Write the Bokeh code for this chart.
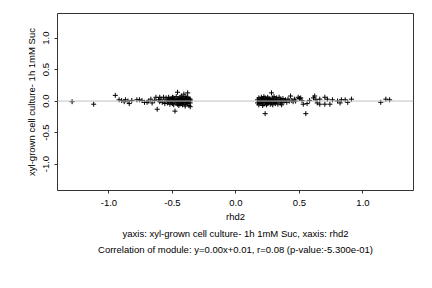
from bokeh.plotting import figure
from bokeh.models import Span, Title, FixedTicker, NumeralTickFormatter
from bokeh.embed import file_html
from bokeh.resources import INLINE

# rhd2 (x) vs xyl-grown cell culture- 1h 1mM Suc (y)
left_x = [-1.29, -1.12, -0.95, -0.92, -0.90, -0.88, -0.87, -0.85, -0.84, -0.82, -0.78, -0.76,
          -0.74, -0.72, -0.70, -0.69, -0.67, -0.66, -0.64, -0.63, -0.62, -0.61, -0.60, -0.60,
          -0.59, -0.58, -0.57, -0.56, -0.56, -0.55, -0.54, -0.54, -0.53, -0.53, -0.52, -0.52,
          -0.51, -0.51, -0.51, -0.50, -0.50, -0.50, -0.49, -0.49, -0.49, -0.48, -0.48, -0.48,
          -0.47, -0.47, -0.47, -0.46, -0.46, -0.46, -0.46, -0.45, -0.45, -0.45, -0.44, -0.44,
          -0.44, -0.44, -0.43, -0.43, -0.43, -0.42, -0.42, -0.42, -0.42, -0.41, -0.41, -0.41,
          -0.41, -0.40, -0.40, -0.40, -0.40, -0.39, -0.39, -0.39, -0.38, -0.38, -0.38, -0.38,
          -0.37, -0.37, -0.37, -0.37, -0.36, -0.36, -0.36, -0.36]
left_y = [-0.01, -0.05, 0.09, 0.02, 0.01, -0.01, 0.02, 0.00, -0.04, 0.01, 0.02, 0.02,
          0.01, -0.02, -0.02, 0.00, 0.03, -0.03, 0.01, 0.06, -0.13, 0.02, 0.06, -0.01,
          0.03, -0.02, 0.06, 0.00, -0.04, 0.05, 0.02, -0.03, 0.06, -0.01, 0.03, -0.05,
          0.04, -0.02, 0.01, 0.06, -0.04, 0.00, 0.02, -0.06, 0.05, -0.01, 0.03, -0.16,
          0.07, -0.03, 0.01, 0.14, -0.05, 0.02, -0.01, 0.04, -0.07, 0.00, 0.06, -0.02,
          0.03, -0.05, 0.01, 0.08, -0.04, 0.05, -0.01, 0.02, -0.06, 0.11, 0.00, -0.03,
          0.04, 0.07, -0.05, 0.01, -0.08, 0.03, -0.02, 0.05, 0.13, -0.04, 0.00, 0.06,
          -0.07, 0.02, -0.01, 0.04, 0.03, -0.03, -0.09, 0.01]

right_x = [0.17, 0.17, 0.18, 0.18, 0.18, 0.19, 0.19, 0.19, 0.20, 0.20, 0.20, 0.21,
           0.21, 0.21, 0.22, 0.22, 0.22, 0.23, 0.23, 0.23, 0.23, 0.24, 0.24, 0.24,
           0.25, 0.25, 0.25, 0.26, 0.26, 0.26, 0.27, 0.27, 0.27, 0.28, 0.28, 0.28,
           0.29, 0.29, 0.29, 0.30, 0.30, 0.30, 0.31, 0.31, 0.32, 0.32, 0.33, 0.33,
           0.34, 0.34, 0.35, 0.35, 0.36, 0.36, 0.37, 0.37, 0.38,
           0.39, 0.40, 0.41, 0.42, 0.43, 0.44, 0.45, 0.46, 0.47, 0.49, 0.50, 0.51,
           0.52, 0.53, 0.55, 0.56, 0.58, 0.61, 0.62, 0.63, 0.64, 0.66, 0.66, 0.70,
           0.70, 0.72, 0.74, 0.76, 0.80, 0.82, 0.83, 0.86, 0.88, 0.91, 1.14, 1.18, 1.21]
right_y = [0.02, -0.03, 0.05, -0.01, -0.06, 0.03, 0.00, -0.04, 0.06, -0.02, 0.01, -0.07,
           0.04, -0.01, 0.02, -0.05, 0.07, -0.20, 0.00, -0.03, 0.05, 0.03, -0.06, 0.01,
           -0.02, 0.06, -0.04, 0.02, -0.01, 0.04, -0.05, 0.00, 0.03, 0.13, -0.03, 0.01,
           0.05, -0.06, 0.02, -0.02, 0.07, 0.00, 0.03, -0.04, 0.05, -0.01, 0.02, -0.05,
           0.06, 0.00, -0.03, 0.03, 0.01, -0.06, 0.04, -0.02, 0.00,
           0.02, -0.02, 0.03, 0.00, 0.08, 0.01, -0.01, 0.03, 0.00, 0.06, 0.04, 0.05,
           0.01, -0.05, -0.20, -0.04, 0.01, 0.05, 0.08, 0.02, -0.03, 0.03, -0.05, 0.06,
           -0.05, 0.03, -0.05, 0.02, 0.00, -0.03, 0.02, 0.02, -0.02, 0.03, -0.02, 0.03, 0.02]

x_ticks = [-1.0, -0.5, 0.0, 0.5, 1.0]
y_ticks = [-1.0, -0.5, 0.0, 0.5, 1.0]
x_label = "rhd2"
y_label = "xyl-grown cell culture- 1h 1mM Suc"
caption1 = "yaxis: xyl-grown cell culture- 1h 1mM Suc, xaxis: rhd2"
caption2 = "Correlation of module: y=0.00x+0.01, r=0.08 (p-value:-5.300e-01)"

FONT = "Liberation Sans"
FS = "9.5px"

p = figure(width=432, height=288, x_range=(-1.405, 1.398), y_range=(-1.42, 1.39),
           output_backend="svg", toolbar_location=None,
           min_border_left=57, min_border_right=19, min_border_top=13, min_border_bottom=98)
p.background_fill_color = "white"
p.border_fill_color = "white"
p.outline_line_color = "#333333"
p.outline_line_width = 1
p.grid.visible = False

p.add_layout(Span(location=0, dimension="width", line_color="#c0c0c0", line_width=1))

xs = left_x + right_x
ys = left_y + right_y
p.scatter(xs, ys, marker="cross", size=5, line_color="black", line_width=1)

for ax in (p.xaxis[0], p.yaxis[0]):
    ax.axis_line_color = None
    ax.minor_tick_line_color = None
    ax.major_tick_in = 0
    ax.major_tick_out = 3
    ax.major_tick_line_color = "#333333"
    ax.major_label_text_font = FONT
    ax.major_label_text_font_size = FS
    ax.major_label_text_color = "black"
    ax.axis_label_text_font = FONT
    ax.axis_label_text_font_size = FS
    ax.axis_label_text_font_style = "normal"
    ax.axis_label_text_color = "black"
    ax.formatter = NumeralTickFormatter(format="0.0")

p.xaxis.ticker = FixedTicker(ticks=x_ticks)
p.yaxis.ticker = FixedTicker(ticks=y_ticks)
p.xaxis.axis_label = x_label
p.yaxis.axis_label = y_label
p.xaxis.major_label_standoff = 6
p.xaxis.axis_label_standoff = 2
p.yaxis.major_label_orientation = "vertical"
p.yaxis.major_label_standoff = 5
p.yaxis.axis_label_standoff = 4

for txt in (caption1, caption2):
    p.add_layout(Title(text=txt, align="center", text_font=FONT, text_font_size=FS,
                       text_font_style="normal", text_color="black", standoff=3), "below")

open("out.html", "w").write(file_html(p, INLINE))
